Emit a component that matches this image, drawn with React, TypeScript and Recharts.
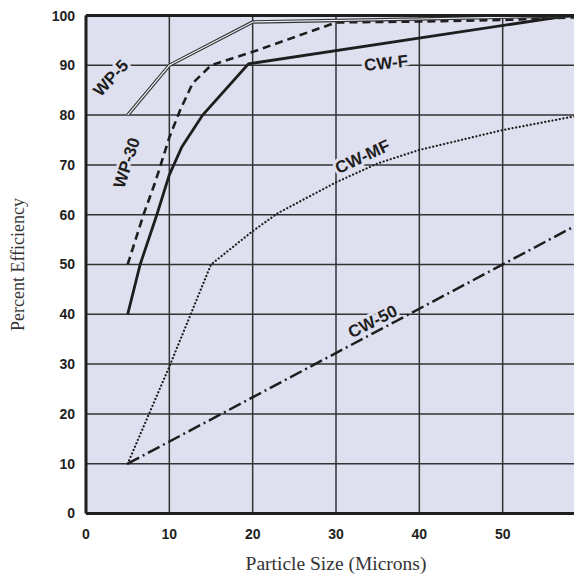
import React from 'react';
import { LineChart, Line, XAxis, YAxis, CartesianGrid, ReferenceLine, ReferenceDot } from 'recharts';

// Tick labels
const xTicks = [0, 10, 20, 30, 40, 50];
const yTicks = [0, 10, 20, 30, 40, 50, 60, 70, 80, 90, 100];

// Series: particle size (microns) -> percent efficiency
const wp5 = [
  { x: 5, y: 80 },
  { x: 10, y: 90 },
  { x: 20, y: 98.7 },
  { x: 40, y: 99.3 },
  { x: 60, y: 100 },
];

const wp30 = [
  { x: 5, y: 50 },
  { x: 6.9, y: 60 },
  { x: 8.3, y: 66.5 },
  { x: 10, y: 75.5 },
  { x: 11.3, y: 81 },
  { x: 12.8, y: 86.4 },
  { x: 15, y: 90 },
  { x: 20, y: 92.7 },
  { x: 30, y: 98.6 },
  { x: 40, y: 98.8 },
  { x: 50, y: 99.1 },
  { x: 60, y: 99.7 },
];

const cwF = [
  { x: 5, y: 40 },
  { x: 6.5, y: 50 },
  { x: 8.5, y: 60 },
  { x: 10, y: 68 },
  { x: 11.5, y: 73.6 },
  { x: 14, y: 80 },
  { x: 19.5, y: 90.3 },
  { x: 58, y: 100 },
  { x: 60, y: 100 },
];

const cwMF = [
  { x: 5, y: 10 },
  { x: 10, y: 29.5 },
  { x: 15, y: 50 },
  { x: 20, y: 56.7 },
  { x: 23, y: 60.3 },
  { x: 30, y: 66.5 },
  { x: 35, y: 70.3 },
  { x: 40, y: 73 },
  { x: 50, y: 77 },
  { x: 60, y: 80.2 },
];

const cw50 = [
  { x: 5, y: 10 },
  { x: 60, y: 58.9 },
];

// Curve name annotations (anchor in data units)
const curveLabels = [
  { text: 'WP-5', x: 3.0, y: 87.4, angle: -47 },
  { text: 'WP-30', x: 4.9, y: 70.4, angle: -72 },
  { text: 'CW-F', x: 36.0, y: 90.4, angle: -6 },
  { text: 'CW-MF', x: 33.2, y: 71.6, angle: -25 },
  { text: 'CW-50', x: 34.4, y: 38.5, angle: -27 },
];

const BG = '#dfe0ef';
const INK = '#1e1e1e';
const SANS = '"Liberation Sans", Arial, sans-serif';
const SERIF = '"Liberation Serif", "Times New Roman", serif';

const makeLabelShape = (text: string, angle: number) => (props: any) => {
  const { cx, cy } = props;
  return (
    <text
      x={cx}
      y={cy}
      transform={`rotate(${angle} ${cx} ${cy})`}
      textAnchor="middle"
      dominantBaseline="central"
      fontFamily={SANS}
      fontWeight="bold"
      fontSize={17}
      fill={INK}
      stroke={BG}
      strokeWidth={6}
      strokeLinejoin="round"
      paintOrder="stroke"
    >
      {text}
    </text>
  );
};

const tickStyle = { fontSize: 14, fontWeight: 'bold', fill: INK, fontFamily: SANS } as any;

export default function App() {
  return (
    <div style={{ width: 574, height: 573, overflow: 'hidden' }}>
      <LineChart width={600} height={573} margin={{ top: 7.5, right: 22, bottom: 7.5, left: 0 }}>
        <CartesianGrid stroke="#333" strokeWidth={1.5} fill={BG} fillOpacity={1} />
        <XAxis
          type="number"
          dataKey="x"
          domain={[0, 60]}
          ticks={xTicks}
          height={60}
          tickLine={false}
          tickSize={0}
          tickMargin={16}
          axisLine={{ stroke: INK, strokeWidth: 3 }}
          tick={tickStyle}
          label={{
            value: 'Particle Size (Microns)',
            position: 'insideBottom',
            offset: 3.5,
            style: { fontSize: 19.5, fill: '#333', fontFamily: SERIF },
          }}
        />
        <YAxis
          type="number"
          domain={[0, 100]}
          ticks={yTicks}
          width={78}
          tickLine={false}
          tickSize={0}
          tickMargin={11}
          axisLine={{ stroke: INK, strokeWidth: 3 }}
          tick={tickStyle}
          label={{
            value: 'Percent Efficiency',
            angle: -90,
            position: 'insideLeft',
            offset: 10,
            style: { fontSize: 18, fill: '#333', fontFamily: SERIF, textAnchor: 'middle' },
          }}
        />
        {curveLabels.map((l) => (
          <ReferenceDot key={l.text} x={l.x} y={l.y} r={1} shape={makeLabelShape(l.text, l.angle)} />
        ))}
        <Line data={cw50} dataKey="y" stroke={INK} strokeWidth={2.5} strokeDasharray="13 4 2 4" dot={false} isAnimationActive={false} />
        <Line data={cwMF} dataKey="y" stroke={INK} strokeWidth={2.2} strokeDasharray="0.1 3.6" strokeLinecap="round" dot={false} isAnimationActive={false} />
        <Line data={cwF} dataKey="y" stroke={INK} strokeWidth={2.8} dot={false} isAnimationActive={false} />
        <Line data={wp30} dataKey="y" stroke={INK} strokeWidth={2.6} strokeDasharray="8 5" dot={false} isAnimationActive={false} />
        <Line data={wp5} dataKey="y" stroke="#333" strokeWidth={3.4} dot={false} isAnimationActive={false} />
        <Line data={wp5} dataKey="y" stroke="#eef0f8" strokeWidth={1.2} dot={false} isAnimationActive={false} />
        <ReferenceLine y={100} stroke={INK} strokeWidth={3} />
      </LineChart>
    </div>
  );
}
